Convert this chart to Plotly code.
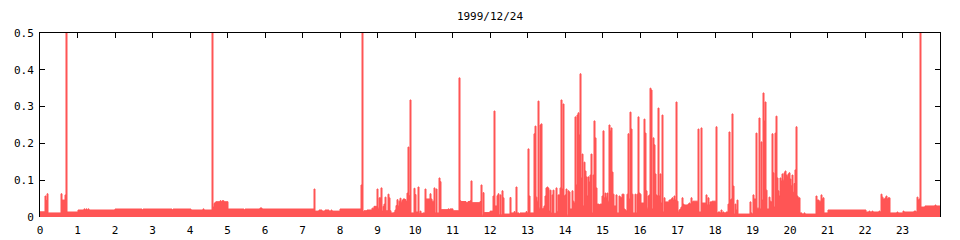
import plotly.graph_objects as go

TITLE = "1999/12/24"

# step start times (hours of day) and the value held until the next start
hours = [
    0.0, 0.133, 0.16, 0.187, 0.213, 0.56, 0.587, 0.667, 0.693, 0.72,
    1.013, 1.173, 1.2, 1.227, 1.253, 1.28, 1.307, 2.0, 2.72, 2.747,
    3.52, 3.547, 4.027, 4.347, 4.373, 4.587, 4.613, 4.64, 4.667, 4.693,
    4.8, 4.827, 4.853, 4.907, 5.013, 5.44, 5.467, 5.867, 5.92, 7.307,
    7.333, 7.44, 7.52, 7.6, 7.707, 7.76, 7.787, 8.0, 8.56, 8.587,
    8.613, 8.64, 8.72, 8.853, 8.907, 8.987, 9.013, 9.04, 9.093, 9.12,
    9.147, 9.173, 9.2, 9.227, 9.28, 9.307, 9.333, 9.36, 9.44, 9.467,
    9.493, 9.52, 9.547, 9.573, 9.6, 9.627, 9.653, 9.68, 9.733, 9.76,
    9.787, 9.813, 9.84, 9.867, 9.893, 9.973, 10.0, 10.027, 10.08, 10.107,
    10.133, 10.16, 10.213, 10.267, 10.293, 10.4, 10.427, 10.453, 10.507, 10.533,
    10.56, 10.587, 10.64, 10.667, 10.693, 10.88, 10.907, 10.933, 11.013, 11.173,
    11.2, 11.227, 11.36, 11.413, 11.467, 11.493, 11.52, 11.733, 11.76, 11.787,
    11.813, 11.84, 12.0, 12.08, 12.107, 12.133, 12.187, 12.213, 12.24, 12.267,
    12.293, 12.32, 12.347, 12.373, 12.533, 12.56, 12.64, 12.667, 12.693, 12.72,
    12.773, 12.8, 12.96, 12.987, 13.013, 13.04, 13.067, 13.173, 13.2, 13.227,
    13.253, 13.28, 13.307, 13.333, 13.36, 13.387, 13.413, 13.44, 13.467, 13.493,
    13.52, 13.547, 13.573, 13.6, 13.627, 13.653, 13.68, 13.707, 13.76, 13.787,
    13.813, 13.867, 13.893, 13.92, 13.947, 13.973, 14.0, 14.027, 14.053, 14.08,
    14.107, 14.133, 14.187, 14.213, 14.24, 14.267, 14.293, 14.32, 14.347, 14.373,
    14.4, 14.427, 14.453, 14.48, 14.507, 14.533, 14.56, 14.587, 14.613, 14.64,
    14.667, 14.693, 14.72, 14.747, 14.773, 14.8, 14.827, 14.853, 14.907, 14.933,
    14.987, 15.013, 15.04, 15.067, 15.093, 15.12, 15.147, 15.173, 15.2, 15.227,
    15.253, 15.28, 15.307, 15.36, 15.387, 15.44, 15.467, 15.493, 15.52, 15.573,
    15.6, 15.627, 15.653, 15.68, 15.707, 15.733, 15.76, 15.787, 15.813, 15.867,
    15.893, 15.92, 15.947, 15.973, 16.0, 16.027, 16.107, 16.133, 16.16, 16.187,
    16.213, 16.24, 16.267, 16.293, 16.32, 16.347, 16.373, 16.4, 16.427, 16.453,
    16.48, 16.507, 16.533, 16.56, 16.587, 16.613, 16.64, 16.667, 16.773, 16.827,
    16.853, 16.88, 16.907, 16.933, 16.96, 16.987, 17.013, 17.04, 17.067, 17.093,
    17.12, 17.147, 17.173, 17.28, 17.307, 17.333, 17.36, 17.387, 17.413, 17.547,
    17.573, 17.627, 17.653, 17.76, 17.787, 17.813, 17.84, 17.867, 17.92, 18.027,
    18.053, 18.08, 18.133, 18.16, 18.187, 18.213, 18.24, 18.293, 18.347, 18.373,
    18.4, 18.427, 18.453, 18.48, 18.507, 18.533, 18.56, 18.587, 18.613, 18.933,
    18.96, 18.987, 19.013, 19.04, 19.093, 19.12, 19.173, 19.2, 19.227, 19.253,
    19.28, 19.307, 19.333, 19.36, 19.387, 19.44, 19.467, 19.493, 19.52, 19.547,
    19.573, 19.6, 19.627, 19.653, 19.68, 19.707, 19.733, 19.76, 19.787, 19.813,
    19.84, 19.867, 19.893, 19.92, 19.947, 19.973, 20.0, 20.027, 20.053, 20.08,
    20.107, 20.133, 20.16, 20.187, 20.213, 20.267, 20.32, 20.373, 20.4, 20.693,
    20.72, 20.773, 20.827, 20.853, 20.88, 20.907, 21.013, 22.027, 22.107, 22.133,
    22.187, 22.213, 22.373, 22.4, 22.427, 22.453, 22.48, 22.533, 22.56, 22.587,
    22.613, 22.667, 22.853, 22.88, 23.013, 23.04, 23.307, 23.36, 23.387, 23.413,
    23.44, 23.467, 23.493, 23.6, 23.867, 23.893,
]

values = [
    0.014, 0.057, 0.045, 0.063, 0.011, 0.063, 0.046, 0.060, 0.60, 0.0136,
    0.019, 0.022, 0.019, 0.022, 0.019, 0.022, 0.019, 0.0217, 0.019, 0.0217,
    0.019, 0.0217, 0.019, 0.022, 0.019, 0.60, 0.027, 0.037, 0.040, 0.0415,
    0.044, 0.0415, 0.044, 0.0415, 0.0217, 0.019, 0.0217, 0.0245, 0.0217, 0.076,
    0.016, 0.019, 0.016, 0.019, 0.016, 0.019, 0.016, 0.0217, 0.087, 0.60,
    0.0145, 0.017, 0.019, 0.024, 0.029, 0.076, 0.024, 0.052, 0.079, 0.016,
    0.029, 0.035, 0.054, 0.017, 0.062, 0.052, 0.017, 0.011, 0.013, 0.019,
    0.031, 0.047, 0.030, 0.043, 0.051, 0.040, 0.045, 0.049, 0.047, 0.042,
    0.065, 0.19, 0.058, 0.318, 0.011, 0.078, 0.061, 0.0136, 0.0815, 0.010,
    0.016, 0.010, 0.011, 0.076, 0.049, 0.063, 0.049, 0.043, 0.079, 0.011,
    0.076, 0.011, 0.106, 0.096, 0.020, 0.022, 0.020, 0.022, 0.017, 0.378,
    0.044, 0.042, 0.039, 0.042, 0.044, 0.098, 0.039, 0.042, 0.087, 0.005,
    0.066, 0.012, 0.016, 0.057, 0.288, 0.030, 0.058, 0.063, 0.006, 0.060,
    0.006, 0.071, 0.052, 0.008, 0.053, 0.011, 0.0145, 0.011, 0.0815, 0.011,
    0.008, 0.011, 0.0145, 0.011, 0.185, 0.057, 0.011, 0.226, 0.247, 0.054,
    0.043, 0.315, 0.024, 0.250, 0.253, 0.0217, 0.024, 0.030, 0.057, 0.079,
    0.0815, 0.078, 0.016, 0.073, 0.011, 0.060, 0.073, 0.010, 0.079, 0.0145,
    0.060, 0.079, 0.318, 0.076, 0.307, 0.057, 0.060, 0.076, 0.005, 0.071,
    0.068, 0.0217, 0.071, 0.043, 0.038, 0.272, 0.087, 0.277, 0.283, 0.223,
    0.389, 0.106, 0.171, 0.030, 0.149, 0.125, 0.109, 0.057, 0.109, 0.095,
    0.114, 0.171, 0.011, 0.114, 0.261, 0.215, 0.079, 0.035, 0.033, 0.035,
    0.057, 0.234, 0.052, 0.065, 0.054, 0.065, 0.043, 0.250, 0.234, 0.242,
    0.122, 0.062, 0.030, 0.060, 0.011, 0.057, 0.054, 0.052, 0.062, 0.0217,
    0.019, 0.016, 0.062, 0.226, 0.049, 0.285, 0.239, 0.062, 0.011, 0.062,
    0.011, 0.062, 0.272, 0.065, 0.062, 0.038, 0.266, 0.228, 0.071, 0.024,
    0.057, 0.060, 0.350, 0.345, 0.0217, 0.215, 0.196, 0.117, 0.060, 0.057,
    0.296, 0.057, 0.117, 0.038, 0.277, 0.0136, 0.052, 0.041, 0.046, 0.049,
    0.052, 0.046, 0.057, 0.046, 0.3125, 0.043, 0.0136, 0.019, 0.0217, 0.027,
    0.052, 0.035, 0.0326, 0.035, 0.038, 0.035, 0.052, 0.041, 0.043, 0.239,
    0.0136, 0.242, 0.038, 0.060, 0.0326, 0.052, 0.0326, 0.041, 0.043, 0.245,
    0.011, 0.0136, 0.011, 0.019, 0.011, 0.0136, 0.011, 0.0136, 0.035, 0.231,
    0.046, 0.049, 0.280, 0.084, 0.008, 0.035, 0.019, 0.046, 0.008, 0.041,
    0.011, 0.008, 0.060, 0.049, 0.228, 0.024, 0.269, 0.0217, 0.204, 0.046,
    0.337, 0.261, 0.3125, 0.073, 0.0217, 0.054, 0.043, 0.041, 0.226, 0.120,
    0.027, 0.228, 0.274, 0.106, 0.071, 0.057, 0.106, 0.098, 0.117, 0.100,
    0.120, 0.125, 0.114, 0.111, 0.117, 0.120, 0.103, 0.085, 0.114, 0.067,
    0.091, 0.128, 0.245, 0.057, 0.052, 0.011, 0.008, 0.011, 0.008, 0.057,
    0.046, 0.043, 0.060, 0.049, 0.052, 0.011, 0.019, 0.0136, 0.016, 0.0136,
    0.016, 0.0136, 0.016, 0.0136, 0.062, 0.054, 0.049, 0.052, 0.057, 0.049,
    0.052, 0.011, 0.0136, 0.011, 0.016, 0.0136, 0.016, 0.0136, 0.054, 0.046,
    0.049, 0.60, 0.027, 0.030, 0.0326, 0.030,
]

x_end = 24
x_ticks = list(range(0, 24))
y_ticks = [0, 0.1, 0.2, 0.3, 0.4, 0.5]
y_tick_text = ["0", "0.1", "0.2", "0.3", "0.4", "0.5"]

RED = "#ff5555"
FONT = "DejaVu Sans Mono"

xs = list(hours) + [x_end]
ys = list(values) + [values[-1]]

fig = go.Figure()
fig.add_trace(go.Scatter(
    x=xs, y=ys, mode="lines", line=dict(shape="hv", color=RED, width=1),
    fill="tozeroy", fillcolor=RED, hoverinfo="skip", showlegend=False,
))

fig.update_layout(
    width=960, height=240,
    margin=dict(l=40, r=20, t=33, b=23, autoexpand=False),
    paper_bgcolor="white", plot_bgcolor="white",
    font=dict(family=FONT, size=11, color="black"),
    title=dict(text=TITLE, x=490 / 960, xanchor="center", y=1 - 16 / 240,
               yanchor="middle", font=dict(family=FONT, size=11, color="black")),
    showlegend=False,
    xaxis=dict(range=[0, x_end], tickvals=x_ticks, ticktext=[str(t) for t in x_ticks],
               showgrid=False, zeroline=False, showline=False, ticks="",
               ticklabelstandoff=5, automargin=False,
               tickfont=dict(family=FONT, size=11, color="black")),
    xaxis2=dict(range=[0, x_end], overlaying="x", side="top", tickvals=x_ticks,
                showticklabels=False, showgrid=False, zeroline=False,
                showline=True, linecolor="black", linewidth=1,
                ticks="inside", ticklen=5, tickcolor="black", automargin=False),
    yaxis=dict(range=[0, 0.5], tickvals=y_ticks, ticktext=y_tick_text,
               showgrid=False, zeroline=False, showline=True, linecolor="black",
               linewidth=1, ticks="inside", ticklen=5, tickcolor="black",
               ticklabelstandoff=3, automargin=False,
               tickfont=dict(family=FONT, size=11, color="black")),
    yaxis2=dict(range=[0, 0.5], overlaying="y", side="right", tickvals=y_ticks,
                showticklabels=False, showgrid=False, zeroline=False,
                showline=True, linecolor="black", linewidth=1,
                ticks="inside", ticklen=5, tickcolor="black", automargin=False),
)
# invisible anchor trace so the mirrored top/right axes are drawn
fig.add_trace(go.Scatter(x=[None], y=[None], xaxis="x2", yaxis="y2",
                         mode="markers", showlegend=False, hoverinfo="skip"))

fig.write_html("out.html")
